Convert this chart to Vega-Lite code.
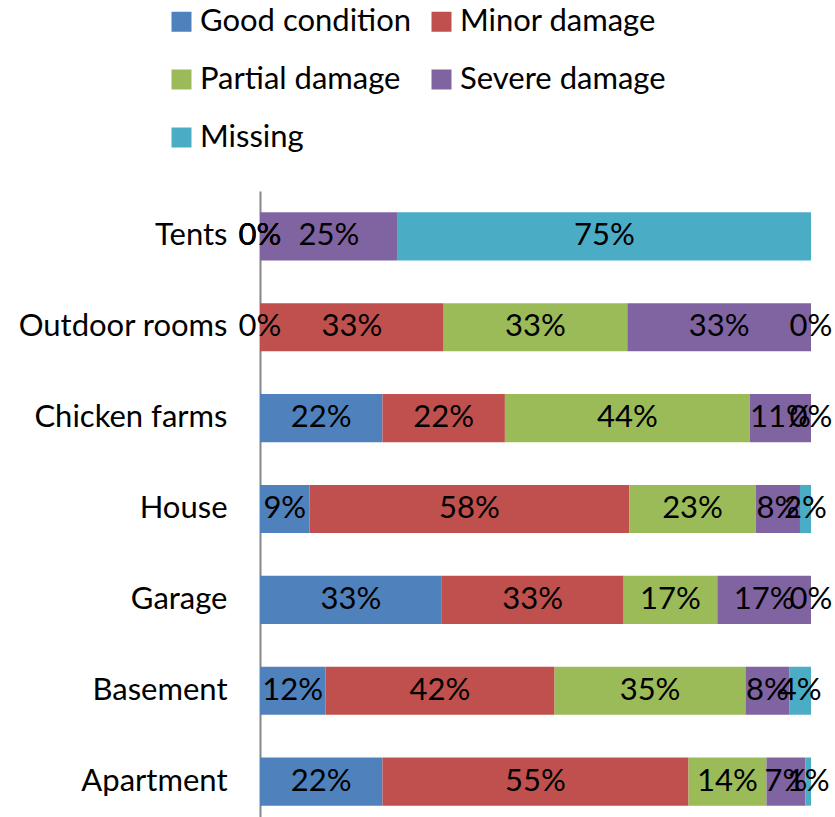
{
  "$schema": "https://vega.github.io/schema/vega-lite/v6.json",
  "width": 551,
  "height": 636,
  "autosize": {"type": "none"},
  "padding": {"left": 260, "top": 191, "right": 24, "bottom": 0},
  "background": "white",
  "config": {"view": {"stroke": null}, "font": "Lato"},
  "data": {
    "values": [
      {"cat": "Tents", "status": "Good condition", "idx": 1, "v": 0, "label": "0%"},
      {"cat": "Tents", "status": "Minor damage", "idx": 2, "v": 0, "label": "0%"},
      {"cat": "Tents", "status": "Partial damage", "idx": 3, "v": 0, "label": "0%"},
      {"cat": "Tents", "status": "Severe damage", "idx": 4, "v": 25, "label": "25%"},
      {"cat": "Tents", "status": "Missing", "idx": 5, "v": 75, "label": "75%"},
      {"cat": "Outdoor rooms", "status": "Good condition", "idx": 1, "v": 0, "label": "0%"},
      {"cat": "Outdoor rooms", "status": "Minor damage", "idx": 2, "v": 33, "label": "33%"},
      {"cat": "Outdoor rooms", "status": "Partial damage", "idx": 3, "v": 33, "label": "33%"},
      {"cat": "Outdoor rooms", "status": "Severe damage", "idx": 4, "v": 33, "label": "33%"},
      {"cat": "Outdoor rooms", "status": "Missing", "idx": 5, "v": 0, "label": "0%"},
      {"cat": "Chicken farms", "status": "Good condition", "idx": 1, "v": 22, "label": "22%"},
      {"cat": "Chicken farms", "status": "Minor damage", "idx": 2, "v": 22, "label": "22%"},
      {"cat": "Chicken farms", "status": "Partial damage", "idx": 3, "v": 44, "label": "44%"},
      {"cat": "Chicken farms", "status": "Severe damage", "idx": 4, "v": 11, "label": "11%"},
      {"cat": "Chicken farms", "status": "Missing", "idx": 5, "v": 0, "label": "0%"},
      {"cat": "House", "status": "Good condition", "idx": 1, "v": 9, "label": "9%"},
      {"cat": "House", "status": "Minor damage", "idx": 2, "v": 58, "label": "58%"},
      {"cat": "House", "status": "Partial damage", "idx": 3, "v": 23, "label": "23%"},
      {"cat": "House", "status": "Severe damage", "idx": 4, "v": 8, "label": "8%"},
      {"cat": "House", "status": "Missing", "idx": 5, "v": 2, "label": "2%"},
      {"cat": "Garage", "status": "Good condition", "idx": 1, "v": 33, "label": "33%"},
      {"cat": "Garage", "status": "Minor damage", "idx": 2, "v": 33, "label": "33%"},
      {"cat": "Garage", "status": "Partial damage", "idx": 3, "v": 17, "label": "17%"},
      {"cat": "Garage", "status": "Severe damage", "idx": 4, "v": 17, "label": "17%"},
      {"cat": "Garage", "status": "Missing", "idx": 5, "v": 0, "label": "0%"},
      {"cat": "Basement", "status": "Good condition", "idx": 1, "v": 12, "label": "12%"},
      {"cat": "Basement", "status": "Minor damage", "idx": 2, "v": 42, "label": "42%"},
      {"cat": "Basement", "status": "Partial damage", "idx": 3, "v": 35, "label": "35%"},
      {"cat": "Basement", "status": "Severe damage", "idx": 4, "v": 8, "label": "8%"},
      {"cat": "Basement", "status": "Missing", "idx": 5, "v": 4, "label": "4%"},
      {"cat": "Apartment", "status": "Good condition", "idx": 1, "v": 22, "label": "22%"},
      {"cat": "Apartment", "status": "Minor damage", "idx": 2, "v": 55, "label": "55%"},
      {"cat": "Apartment", "status": "Partial damage", "idx": 3, "v": 14, "label": "14%"},
      {"cat": "Apartment", "status": "Severe damage", "idx": 4, "v": 7, "label": "7%"},
      {"cat": "Apartment", "status": "Missing", "idx": 5, "v": 1, "label": "1%"}
    ]
  },
  "transform": [
    {"stack": "v", "groupby": ["cat"], "sort": [{"field": "idx", "order": "ascending"}], "offset": "normalize", "as": ["x0", "x1"]},
    {"calculate": "(datum.x0 + datum.x1) / 2", "as": "xm"}
  ],
  "encoding": {
    "y": {
      "field": "cat",
      "type": "nominal",
      "sort": ["Tents", "Outdoor rooms", "Chicken farms", "House", "Garage", "Basement", "Apartment"],
      "scale": {"paddingInner": 0.47, "paddingOuter": 0.235},
      "axis": {
        "title": null,
        "domainColor": "#868686",
        "domainWidth": 2,
        "ticks": false,
        "labelFontSize": 31,
        "labelFont": "Lato",
        "labelColor": "black",
        "labelPadding": 33,
        "labelLimit": 0
      }
    }
  },
  "layer": [
    {
      "mark": {"type": "bar"},
      "encoding": {
        "x": {"field": "x0", "type": "quantitative", "scale": {"domain": [0, 1], "nice": false, "zero": true}, "axis": null},
        "x2": {"field": "x1"},
        "color": {
          "field": "status",
          "type": "nominal",
          "scale": {
            "domain": ["Good condition", "Partial damage", "Missing", "Minor damage", "Severe damage"],
            "range": ["#4F81BD", "#9BBB59", "#4BACC6", "#C0504D", "#8064A2"]
          },
          "legend": {
            "orient": "none",
            "legendX": -94,
            "legendY": -185,
            "columns": 2,
            "title": null,
            "symbolType": "square",
            "symbolSize": 400,
            "symbolStrokeWidth": 0,
            "labelFontSize": 31,
            "labelFont": "Lato",
            "labelColor": "black",
            "rowPadding": 26,
            "columnPadding": 14,
            "labelOffset": 3,
            "labelLimit": 0
          }
        }
      }
    },
    {
      "mark": {"type": "text", "fontSize": 31, "color": "black", "font": "Lato"},
      "encoding": {
        "x": {"field": "xm", "type": "quantitative"},
        "text": {"field": "label"}
      }
    }
  ]
}
